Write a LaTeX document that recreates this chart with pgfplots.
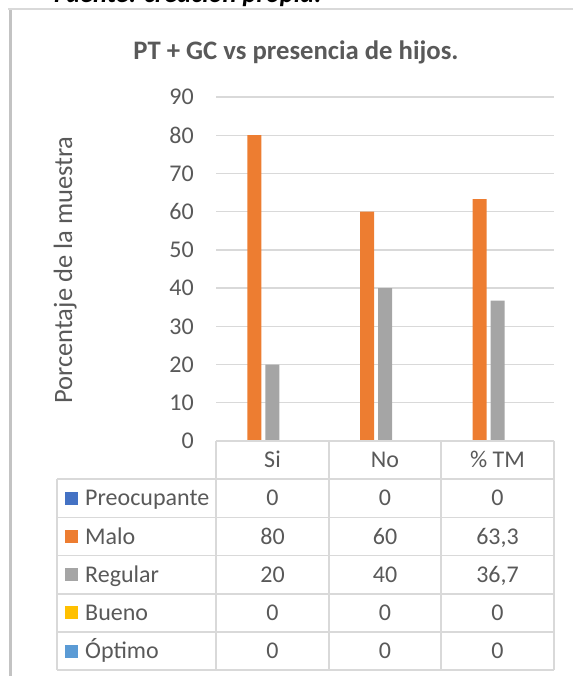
\documentclass[border=0pt]{standalone}
\usepackage{pgfplots}
\pgfplotsset{compat=1.18}
\usepackage{fontspec}
\setmainfont{Carlito}
\definecolor{cblue}{RGB}{68,114,196}
\definecolor{corange}{RGB}{237,125,49}
\definecolor{cgray}{RGB}{165,165,165}
\definecolor{cyellow}{RGB}{255,192,0}
\definecolor{clblue}{RGB}{91,155,213}
\definecolor{txt}{RGB}{89,89,89}
\definecolor{gridc}{RGB}{217,217,217}
\newcommand{\fs}[1]{\fontsize{#1}{#1}\selectfont}
\begin{document}
\begin{tikzpicture}
\useasboundingbox (0pt,0pt) rectangle (573pt,676pt);
% outer frame
\draw[color=gridc!90!black, line width=3pt] (10pt,0pt) -- (10pt,667pt);
\draw[color=gridc, line width=1.5pt] (8pt,667pt) -- (573pt,667pt);
% caption cut off at top
\node[anchor=base west, inner sep=0pt, font=\fs{26.5}\bfseries\itshape] at (54pt,673.5pt) {Fuente: creación propia.};
% title
\node[anchor=base, inner sep=0pt, font=\fs{26.7}\bfseries, text=txt] at (296pt,616pt) {PT + GC vs presencia de hijos.};
% y label
\node[rotate=90, anchor=base, inner sep=0pt, font=\fs{26.5}, text=txt] at (72pt,406pt) {Porcentaje de la muestra};
\begin{axis}[
  scale only axis, width=338pt, height=344pt,
  at={(216pt,235pt)}, anchor=south west,
  xmin=-0.5, xmax=2.5, ymin=0, ymax=90,
  ytick={0,10,...,90}, xtick=\empty,
  ymajorgrids, grid style={draw=gridc, line width=1.3pt},
  axis line style={draw=none},
  major tick length=0pt,
  yticklabel style={font=\fs{24}, text=txt, inner sep=0pt, anchor=east, xshift=-22pt},
  /pgf/number format/assume math mode=true,
  ybar=4pt, bar width=14pt,
  clip=false,
]
\addplot[fill=cblue, draw=none] coordinates {(0,0) (1,0) (2,0)};
\addplot[fill=corange, draw=none] coordinates {(0,80) (1,60) (2,63.3)};
\addplot[fill=cgray, draw=none] coordinates {(0,20) (1,40) (2,36.7)};
\addplot[fill=cyellow, draw=none] coordinates {(0,0) (1,0) (2,0)};
\addplot[fill=clblue, draw=none] coordinates {(0,0) (1,0) (2,0)};
\end{axis}
% data table
\begin{scope}[line width=1.5pt, color=gridc]
\draw (216pt,235pt) -- (554pt,235pt);
\foreach \yy in {196.8,158.6,120.4,82.2,44,5.8} \draw (57pt,\yy pt) -- (554pt,\yy pt);
\foreach \xx in {216,329,441,554} \draw (\xx pt,235pt) -- (\xx pt,5.8pt);
\draw (57pt,196.8pt) -- (57pt,5.8pt);
\end{scope}
\begin{scope}[every node/.style={inner sep=0pt, font=\fs{24}, text=txt}]
% header
\node[anchor=base] at (272.5pt,208.3pt) {Si};
\node[anchor=base] at (385pt,208.3pt) {No};
\node[anchor=base] at (497.5pt,208.3pt) {\% TM};
% rows
\foreach \yc/\nm/\col/\a/\b/\c in {177.7/Preocupante/cblue/0/0/0, 139.5/Malo/corange/80/60/{63,3}, 101.3/Regular/cgray/20/40/{36,7}, 63.1/Bueno/cyellow/0/0/0, 24.9/Óptimo/clblue/0/0/0}{
  \fill[\col] (65pt,\yc pt-6.5pt) rectangle (78pt,\yc pt+6.5pt);
  \node[anchor=base west] at (85pt,\yc pt-7.6pt) {\nm};
  \node[anchor=base] at (272.5pt,\yc pt-7.6pt) {\a};
  \node[anchor=base] at (385pt,\yc pt-7.6pt) {\b};
  \node[anchor=base] at (497.5pt,\yc pt-7.6pt) {\c};
}
\end{scope}
\end{tikzpicture}
\end{document}
